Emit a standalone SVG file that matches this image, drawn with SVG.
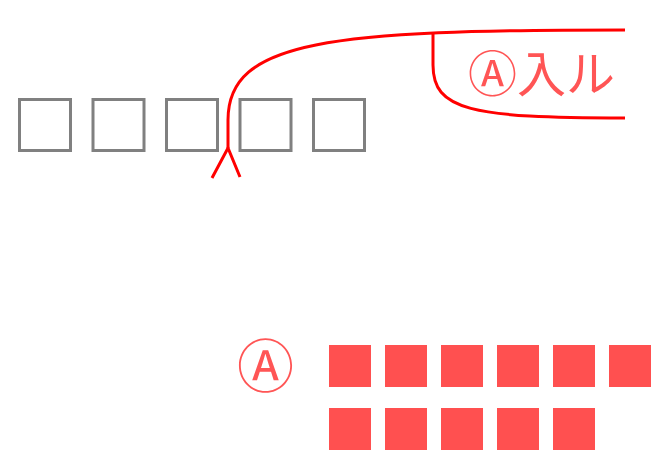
<svg xmlns="http://www.w3.org/2000/svg" width="666" height="461" viewBox="0 0 666 461">
  <style>
    .box { fill: none; stroke: #808080; stroke-width: 3; }
    .blk { fill: #FF5050; }
    .line { fill: none; stroke: #FF0000; stroke-width: 3; stroke-linecap: butt; stroke-linejoin: miter; }
    .lbl { fill: #FF5555; font-family: "Noto Sans CJK JP", "Noto Sans", sans-serif; }
  </style>
  <rect width="666" height="461" fill="#FFFFFF"/>
  <g id="boxes">
    <rect class="box" x="19.5" y="99.5" width="51" height="51"/>
    <rect class="box" x="93" y="99.5" width="51" height="51"/>
    <rect class="box" x="166.5" y="99.5" width="51" height="51"/>
    <rect class="box" x="240" y="99.5" width="51" height="51"/>
    <rect class="box" x="313.5" y="99.5" width="51" height="51"/>
  </g>
  <g id="connectors">
    <path class="line" d="M625,30 C330,30 228,40 228,120 L228,148"/>
    <path class="line" d="M212,178 L228,148 L240,177"/>
    <path class="line" d="M433,34 L433,65 C433,110 470,118 625,118"/>
  </g>
  <g id="top-label">
    <text class="lbl" x="468" y="91.5" font-size="49">Ⓐ入ル</text>
  </g>
  <g id="bottom-label">
    <text class="lbl" x="265.5" y="386.5" font-size="57" text-anchor="middle">Ⓐ</text>
  </g>
  <g id="blocks">
    <rect class="blk" x="329" y="345" width="42" height="42"/>
    <rect class="blk" x="385" y="345" width="42" height="42"/>
    <rect class="blk" x="441" y="345" width="42" height="42"/>
    <rect class="blk" x="497" y="345" width="42" height="42"/>
    <rect class="blk" x="553" y="345" width="42" height="42"/>
    <rect class="blk" x="609" y="345" width="42" height="42"/>
    <rect class="blk" x="329" y="408" width="42" height="42"/>
    <rect class="blk" x="385" y="408" width="42" height="42"/>
    <rect class="blk" x="441" y="408" width="42" height="42"/>
    <rect class="blk" x="497" y="408" width="42" height="42"/>
    <rect class="blk" x="553" y="408" width="42" height="42"/>
  </g>
</svg>
